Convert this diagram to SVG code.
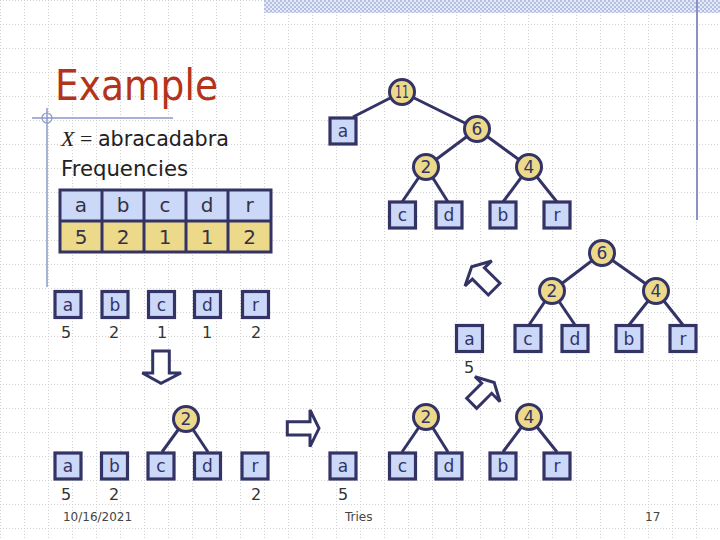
<svg xmlns="http://www.w3.org/2000/svg" width="720" height="540" viewBox="0 0 720 540">
<defs>
<pattern id="grid" width="24" height="24" patternUnits="userSpaceOnUse">
<path d="M0 0.5H24M0.5 0V24" fill="none" stroke="#d2d2d2" stroke-width="1" stroke-dasharray="1 2"/>
</pattern>
<pattern id="check" width="4" height="4" patternUnits="userSpaceOnUse">
<rect width="4" height="4" fill="#e6eaf6"/>
<rect width="2" height="2" fill="#b4c0e2"/>
<rect x="2" y="2" width="2" height="2" fill="#b4c0e2"/>
</pattern>
<style>
.box{fill:#ccd8f8;stroke:#333366;stroke-width:3.2}
.cir{fill:#ecd98a;stroke:#333366;stroke-width:3}
.edge{stroke:#333366;stroke-width:3;fill:none}
.lbl{font-family:"DejaVu Sans",Verdana,sans-serif;font-size:17px;fill:#333366;text-anchor:middle}
.num{font-family:"DejaVu Sans",Verdana,sans-serif;font-size:16px;fill:#333333;text-anchor:middle}
.tb{font-family:"DejaVu Sans",Verdana,sans-serif;font-size:20px;fill:#333344;text-anchor:middle}
.foot{font-family:"DejaVu Sans",Verdana,sans-serif;font-size:12px;fill:#444444}
.arrow{fill:#ffffff;stroke:#333366;stroke-width:3;stroke-linejoin:miter}
</style>
</defs>
<rect width="720" height="540" fill="#ffffff"/>
<rect width="720" height="540" fill="url(#grid)"/>
<rect x="264" y="0" width="456" height="13" fill="url(#check)"/>
<line x1="697" y1="0" x2="697" y2="220" stroke="#8a92c4" stroke-width="2"/>
<g id="decor">
<line x1="32" y1="118" x2="173" y2="118" stroke="#8a9ac8" stroke-width="1.5"/>
<line x1="47" y1="108" x2="47" y2="287" stroke="#8a9ac8" stroke-width="1.5"/>
<circle cx="47" cy="118" r="5" fill="none" stroke="#8a9ac8" stroke-width="1.2"/>
</g>
<text x="55" y="100" font-family="DejaVu Sans, Verdana, sans-serif" font-size="42" fill="#b3341a" textLength="163" lengthAdjust="spacingAndGlyphs">Example</text>
<text x="61" y="146" font-family="DejaVu Sans, Verdana, sans-serif" font-size="22" fill="#222222"><tspan font-family="Liberation Serif, serif" font-style="italic">X</tspan><tspan font-family="Liberation Serif, serif"> = </tspan><tspan textLength="131" lengthAdjust="spacingAndGlyphs">abracadabra</tspan></text>
<text x="61" y="176" font-family="DejaVu Sans, Verdana, sans-serif" font-size="22" fill="#222222" textLength="127" lengthAdjust="spacingAndGlyphs">Frequencies</text>
<g id="table">
<rect x="60" y="190" width="211" height="31" fill="#ccd8f8"/>
<rect x="60" y="221" width="211" height="31" fill="#ecd98a"/>
<path d="M60 190H271V252H60Z M60 221H271 M102 190V252 M144 190V252 M186 190V252 M228 190V252" fill="none" stroke="#333366" stroke-width="3"/>
<text class="tb" x="81" y="212">a</text><text class="tb" x="123" y="212">b</text><text class="tb" x="165" y="212">c</text><text class="tb" x="207" y="212">d</text><text class="tb" x="249.5" y="212">r</text>
<text class="tb" x="81" y="244">5</text><text class="tb" x="123" y="244">2</text><text class="tb" x="165" y="244">1</text><text class="tb" x="207" y="244">1</text><text class="tb" x="249.5" y="244">2</text>
</g>
<g id="connectors">
<line class="edge" x1="402" y1="92" x2="353" y2="117"/>
<line class="edge" x1="402" y1="92" x2="477" y2="129"/>
<line class="edge" x1="477" y1="129" x2="426" y2="167"/>
<line class="edge" x1="477" y1="129" x2="529" y2="167"/>
<line class="edge" x1="426" y1="167" x2="402" y2="202"/>
<line class="edge" x1="426" y1="167" x2="448" y2="202"/>
<line class="edge" x1="529" y1="167" x2="503" y2="202"/>
<line class="edge" x1="529" y1="167" x2="557" y2="202"/>
<line class="edge" x1="602" y1="253" x2="552" y2="291"/>
<line class="edge" x1="602" y1="253" x2="656" y2="291"/>
<line class="edge" x1="552" y1="291" x2="529" y2="325"/>
<line class="edge" x1="552" y1="291" x2="575" y2="325"/>
<line class="edge" x1="656" y1="291" x2="629" y2="325"/>
<line class="edge" x1="656" y1="291" x2="683" y2="325"/>
<line class="edge" x1="186" y1="419" x2="162" y2="452"/>
<line class="edge" x1="186" y1="419" x2="208" y2="452"/>
<line class="edge" x1="426" y1="417" x2="402" y2="452"/>
<line class="edge" x1="426" y1="417" x2="448" y2="452"/>
<line class="edge" x1="529" y1="417" x2="503" y2="452"/>
<line class="edge" x1="529" y1="417" x2="557" y2="452"/>
</g>
<g id="tree1">
<g id="t1-11"><circle class="cir" cx="402" cy="92" r="12.5"/><text class="lbl" x="402" y="97.5" font-size="14" textLength="14" lengthAdjust="spacingAndGlyphs">11</text></g>
<g id="t1-a"><rect class="box" x="330" y="118" width="26" height="26"/><text class="lbl" x="343" y="137">a</text></g>
<g id="t1-6"><circle class="cir" cx="477" cy="129" r="12.5"/><text class="lbl" x="477" y="135">6</text></g>
<g id="t1-2"><circle class="cir" cx="426" cy="167" r="12.5"/><text class="lbl" x="426" y="173">2</text></g>
<g id="t1-4"><circle class="cir" cx="529" cy="167" r="12.5"/><text class="lbl" x="529" y="173">4</text></g>
<g id="t1-c"><rect class="box" x="389.5" y="202" width="26" height="26"/><text class="lbl" x="402.5" y="221">c</text></g>
<g id="t1-d"><rect class="box" x="436" y="202" width="26" height="26"/><text class="lbl" x="449" y="221">d</text></g>
<g id="t1-b"><rect class="box" x="490" y="202" width="26" height="26"/><text class="lbl" x="503" y="221">b</text></g>
<g id="t1-r"><rect class="box" x="544" y="202" width="26" height="26"/><text class="lbl" x="557" y="221">r</text></g>
</g>
<g id="row1">
<g id="r1-a"><rect class="box" x="55" y="291.5" width="26" height="26"/><text class="lbl" x="68" y="310.5">a</text><text class="num" x="66" y="338">5</text></g>
<g id="r1-b"><rect class="box" x="102" y="291.5" width="26" height="26"/><text class="lbl" x="115" y="310.5">b</text><text class="num" x="114" y="338">2</text></g>
<g id="r1-c"><rect class="box" x="148.5" y="291.5" width="26" height="26"/><text class="lbl" x="161.5" y="310.5">c</text><text class="num" x="162" y="338">1</text></g>
<g id="r1-d"><rect class="box" x="194.5" y="291.5" width="26" height="26"/><text class="lbl" x="207.5" y="310.5">d</text><text class="num" x="207" y="338">1</text></g>
<g id="r1-r"><rect class="box" x="242.5" y="291.5" width="26" height="26"/><text class="lbl" x="255.5" y="310.5">r</text><text class="num" x="256" y="338">2</text></g>
</g>
<g id="tree2">
<g id="t2-6"><circle class="cir" cx="602" cy="253" r="12.5"/><text class="lbl" x="602" y="259">6</text></g>
<g id="t2-2"><circle class="cir" cx="552" cy="291" r="12.5"/><text class="lbl" x="552" y="297">2</text></g>
<g id="t2-4"><circle class="cir" cx="656" cy="291" r="12.5"/><text class="lbl" x="656" y="297">4</text></g>
<g id="t2-a"><rect class="box" x="456.5" y="325.5" width="26" height="26"/><text class="lbl" x="469.5" y="344.5">a</text><text class="num" x="469" y="373">5</text></g>
<g id="t2-c"><rect class="box" x="515" y="325.5" width="26" height="26"/><text class="lbl" x="528" y="344.5">c</text></g>
<g id="t2-d"><rect class="box" x="562" y="325.5" width="26" height="26"/><text class="lbl" x="575" y="344.5">d</text></g>
<g id="t2-b"><rect class="box" x="616" y="325.5" width="26" height="26"/><text class="lbl" x="629" y="344.5">b</text></g>
<g id="t2-r"><rect class="box" x="670" y="325.5" width="26" height="26"/><text class="lbl" x="683" y="344.5">r</text></g>
</g>
<g id="row3">
<g id="r3-2"><circle class="cir" cx="186" cy="419" r="12.5"/><text class="lbl" x="186" y="425">2</text></g>
<g id="r3-a"><rect class="box" x="55" y="453" width="26" height="26"/><text class="lbl" x="68" y="472">a</text><text class="num" x="66" y="500">5</text></g>
<g id="r3-b"><rect class="box" x="101.5" y="453" width="26" height="26"/><text class="lbl" x="114.5" y="472">b</text><text class="num" x="114" y="500">2</text></g>
<g id="r3-c"><rect class="box" x="148" y="453" width="26" height="26"/><text class="lbl" x="161" y="472">c</text></g>
<g id="r3-d"><rect class="box" x="194.5" y="453" width="26" height="26"/><text class="lbl" x="207.5" y="472">d</text></g>
<g id="r3-r"><rect class="box" x="242" y="453" width="26" height="26"/><text class="lbl" x="255" y="472">r</text><text class="num" x="256" y="500">2</text></g>
</g>
<g id="tree4">
<g id="t4-a"><rect class="box" x="330" y="453" width="26" height="26"/><text class="lbl" x="343" y="472">a</text><text class="num" x="343" y="500">5</text></g>
<g id="t4-2"><circle class="cir" cx="426" cy="417" r="12.5"/><text class="lbl" x="426" y="423">2</text></g>
<g id="t4-4"><circle class="cir" cx="529" cy="417" r="12.5"/><text class="lbl" x="529" y="423">4</text></g>
<g id="t4-c"><rect class="box" x="389.5" y="453" width="26" height="26"/><text class="lbl" x="402.5" y="472">c</text></g>
<g id="t4-d"><rect class="box" x="436" y="453" width="26" height="26"/><text class="lbl" x="449" y="472">d</text></g>
<g id="t4-b"><rect class="box" x="490" y="453" width="26" height="26"/><text class="lbl" x="503" y="472">b</text></g>
<g id="t4-r"><rect class="box" x="544" y="453" width="26" height="26"/><text class="lbl" x="557" y="472">r</text></g>
</g>
<g id="arrows">
<polygon class="arrow" points="471.7,266.7 491.7,261 484.4,267.8 500,283.3 488.3,295 472.4,279.1 465,286"/>
<polygon class="arrow" points="152.7,351 169.3,351 169.3,373 181,373 161,383.3 142.3,373 152.7,373"/>
<polygon class="arrow" points="287.3,421.7 310,421.7 310,410 319,428.3 310,446.7 310,435 287.3,435"/>
<polygon class="arrow" points="494.2,382.5 500,401.7 491.7,393.3 476.7,408.3 466.7,398.3 481.7,383.3 475,376.7"/>
</g>
<text class="foot" x="63" y="521" textLength="69" lengthAdjust="spacingAndGlyphs">10/16/2021</text>
<text class="foot" x="345" y="521">Tries</text>
<text class="foot" x="645" y="521">17</text>
</svg>
